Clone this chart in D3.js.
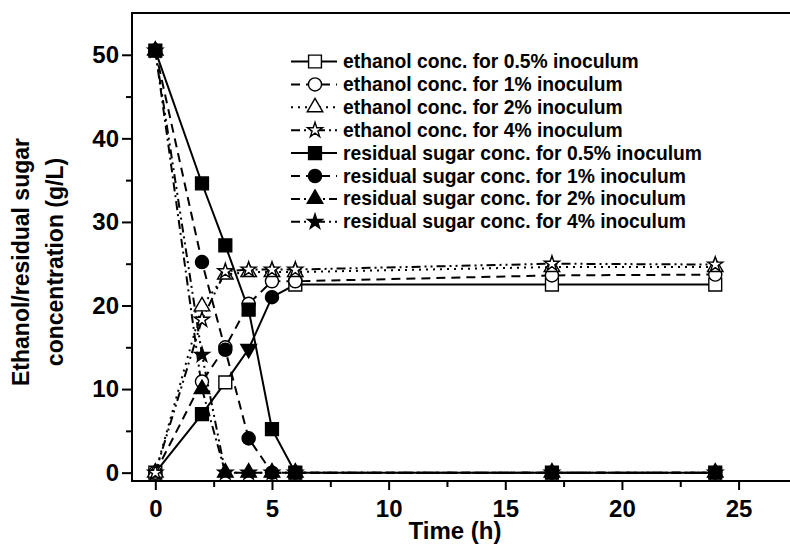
<!DOCTYPE html>
<html>
<head>
<meta charset="utf-8">
<script src="https://cdnjs.cloudflare.com/ajax/libs/d3/7.8.5/d3.min.js"></script>
<style>
  body { margin: 0; background: #fff; }
  svg { display: block; font-family: "Liberation Sans", Arial, sans-serif; font-weight: bold; }
</style>
</head>
<body>
<svg id="chart" width="790" height="545"></svg>
<script>
// ---------------- data ----------------
const times = [0, 2, 3, 4, 5, 6, 17, 24];

const ethanol05 = [0, 7.0, 10.8, 14.8, 21.0, 22.5, 22.5, 22.5];
const ethanol1  = [0, 10.9, 15.0, 20.2, 22.9, 22.9, 23.6, 23.7];
const ethanol2  = [0, 19.9, 23.7, 24.0, 24.0, 24.0, 24.6, 24.6];
const ethanol4  = [0, 18.3, 24.1, 24.3, 24.3, 24.3, 25.0, 24.9];
const sugar05   = [50.5, 34.6, 27.2, 19.5, 5.2, 0, 0, 0];
const sugar1    = [50.5, 25.2, 14.7, 4.1, 0, 0, 0, 0];
const sugar2    = [50.5, 10.0, 0, 0, 0, 0, 0, 0];
const sugar4    = [50.5, 14.1, 0, 0, 0, 0, 0, 0];

// the original figure shows odd markers on a few points of the 0.5% ethanol curve
const ethanol05Marks = ["square", "squareFill", "square", "triDownFill", "circleFill", "square", "square", "square"];

const legendLabels = [
    "ethanol conc. for 0.5% inoculum",
    "ethanol conc. for 1% inoculum",
    "ethanol conc. for 2% inoculum",
    "ethanol conc. for 4% inoculum",
    "residual sugar conc. for 0.5% inoculum",
    "residual sugar conc. for 1% inoculum",
    "residual sugar conc. for 2% inoculum",
    "residual sugar conc. for 4% inoculum"
];

const xTicks = [0, 5, 10, 15, 20, 25];
const xMinor = [2.5, 7.5, 12.5, 17.5, 22.5, 27.5];
const yTicks = [0, 10, 20, 30, 40, 50];
const yMinor = [5, 15, 25, 35, 45];

// series: values, marker, dash pattern (drawing order = legend order)
const series = [
    { values: ethanol05, mark: "square",     dash: null,           marks: ethanol05Marks },
    { values: ethanol1,  mark: "circle",     dash: "9,6" },
    { values: ethanol2,  mark: "tri",        dash: "2,5" },
    { values: ethanol4,  mark: "star",       dash: "9,4,2,4,2,4" },
    { values: sugar05,   mark: "squareFill", dash: null },
    { values: sugar1,    mark: "circleFill", dash: "9,6" },
    { values: sugar2,    mark: "triFill",    dash: "9,4,2,4" },
    { values: sugar4,    mark: "starFill",   dash: "9,4,2,4,2,4" }
];

// ---------------- layout ----------------
const svg = d3.select("#chart");
const plotLeft = 132, plotTop = 13, plotBottom = 481;

const x = d3.scaleLinear().domain([-1, 28]).range([plotLeft, plotLeft + 29 * 23.33]);
const y = d3.scaleLinear().domain([-1, 55]).range([plotBottom, plotTop]);

// marker shapes
function symbolFor(name) {
    const kind = name.replace("Fill", "");
    if (kind === "square") return d3.symbol(d3.symbolSquare, 165);
    if (kind === "circle") return d3.symbol(d3.symbolCircle, 135);
    if (kind === "tri" || kind === "triDown") return d3.symbol(d3.symbolTriangle, 105);
    return d3.symbol(d3.symbolStar, 70);
}
function drawMark(g, name, px, py) {
    const filled = name.endsWith("Fill");
    g.append("path")
        .attr("d", symbolFor(name)())
        .attr("transform", `translate(${px},${py})` + (name.startsWith("triDown") ? " rotate(180)" : ""))
        .attr("fill", filled ? "#000" : "#fff")
        .attr("stroke", "#000")
        .attr("stroke-width", 1.4);
}

// ---------------- curves ----------------
const line = d3.line().x((d, i) => x(times[i])).y(d => y(d));
const plot = svg.append("g");

series.forEach(s => {
    plot.append("path")
        .attr("d", line(s.values))
        .attr("fill", "none")
        .attr("stroke", "#000")
        .attr("stroke-width", 2)
        .attr("stroke-dasharray", s.dash);
});
series.forEach(s => {
    s.values.forEach((v, i) => {
        drawMark(plot, s.marks ? s.marks[i] : s.mark, x(times[i]), y(v));
    });
});

// ---------------- axes ----------------
svg.append("g").attr("transform", `translate(0,${plotBottom})`)
    .call(d3.axisBottom(x).tickValues(xTicks).tickSize(9).tickPadding(10));
svg.append("g").attr("transform", `translate(0,${plotBottom})`)
    .call(d3.axisBottom(x).tickValues(xMinor).tickSize(6).tickFormat(""));

svg.append("g").attr("transform", `translate(${plotLeft},0)`)
    .call(d3.axisLeft(y).tickValues(yTicks).tickSize(10).tickPadding(3));
svg.append("g").attr("transform", `translate(${plotLeft},0)`)
    .call(d3.axisLeft(y).tickValues(yMinor).tickSize(6).tickFormat(""));

svg.selectAll(".domain").remove();
svg.selectAll(".tick line").attr("stroke", "#000").attr("stroke-width", 2);
svg.selectAll(".tick text")
    .attr("fill", "#000")
    .style("font-family", "'Liberation Sans', Arial, sans-serif")
    .style("font-weight", "bold")
    .style("font-size", "24px");

// frame
svg.append("rect")
    .attr("x", plotLeft).attr("y", plotTop)
    .attr("width", x.range()[1] - plotLeft).attr("height", plotBottom - plotTop)
    .attr("fill", "none").attr("stroke", "#000").attr("stroke-width", 2);

// axis titles
svg.append("text")
    .attr("x", 455).attr("y", 539)
    .attr("text-anchor", "middle")
    .style("font-size", "24px")
    .text("Time (h)");

const yTitle = svg.append("text")
    .attr("transform", "translate(29,262) rotate(-90)")
    .attr("text-anchor", "middle")
    .style("font-size", "23px");
yTitle.append("tspan").attr("x", 0).attr("y", 0).text("Ethanol/residual sugar");
yTitle.append("tspan").attr("x", 0).attr("y", 34).text("concentration (g/L)");

// ---------------- legend ----------------
const legend = svg.append("g");
legendLabels.forEach((label, i) => {
    const base = 68 + i * 22.9;
    const cy = base - 6.5;
    const s = series[i];
    legend.append("line")
        .attr("x1", 291).attr("x2", 337)
        .attr("y1", cy).attr("y2", cy)
        .attr("stroke", "#000").attr("stroke-width", 2)
        .attr("stroke-dasharray", s.dash);
    drawMark(legend, s.mark, 315, cy);
    legend.append("text")
        .attr("x", 343).attr("y", base)
        .style("font-size", "19.3px")
        .text(label);
});
</script>
</body>
</html>
